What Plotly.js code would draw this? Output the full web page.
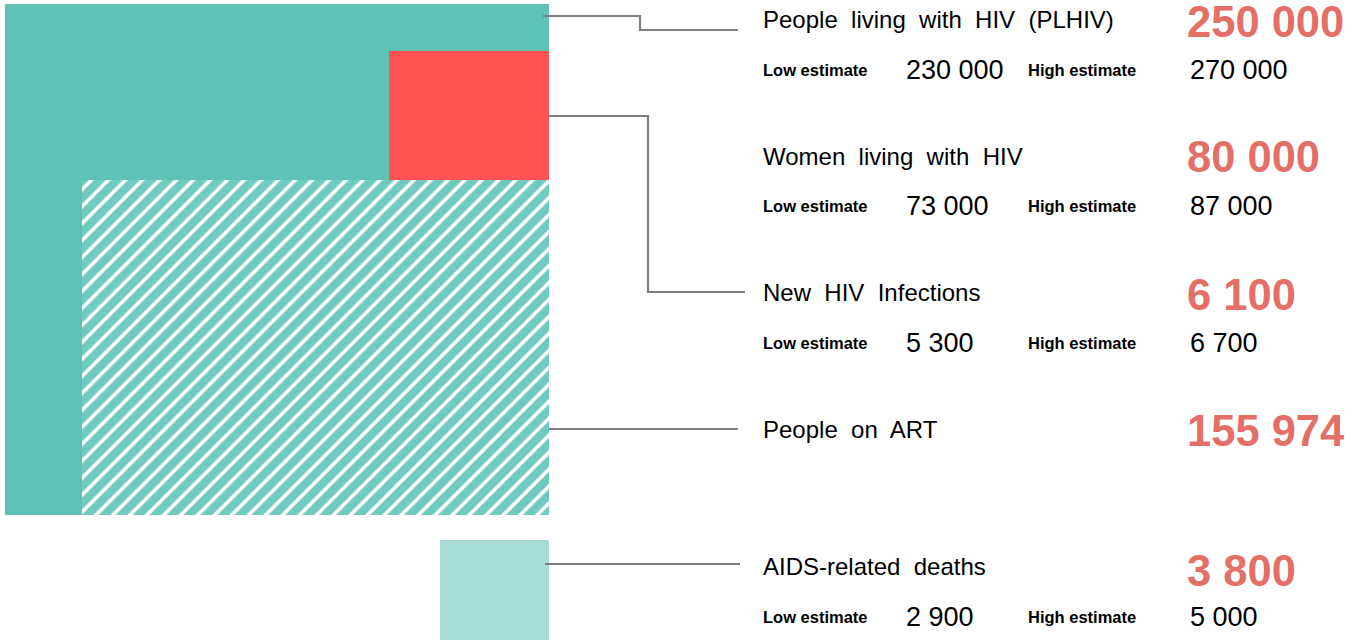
<!DOCTYPE html>
<html>
<head>
<meta charset="utf-8">
<script src="https://cdn.plot.ly/plotly-3.0.1.min.js"></script>
<style>html,body{margin:0;padding:0;background:#fff;}#chart{width:1355px;height:641px;}</style>
</head>
<body>
<div id="chart"></div>
<script>
// ---- data ----
const indicators = ["People  living  with  HIV  (PLHIV)", "Women  living  with  HIV", "New  HIV  Infections", "People  on  ART", "AIDS-related  deaths"];
const values = ["250 000", "80 000", "6 100", "155 974", "3 800"];
const lowEstimates = ["230 000", "73 000", "5 300", null, "2 900"];
const highEstimates = ["270 000", "87 000", "6 700", null, "5 000"];

// ---- layout geometry (pixel-like axis units) ----
const rows = [19, 156, 292, 429, 566];      // title row centre
const bigRows = [22, 157, 295, 431, 571];   // big number centre
const estRows = [70, 206, 343, null, 617];  // estimate row centre

const rects = [
  {x0: 5, x1: 549, y0: 4, y1: 515, color: "#5FC2B5"},
  {x0: 389, x1: 549, y0: 51, y1: 181, color: "#FF5252"},
  {x0: 82, x1: 549, y0: 180, y1: 515, color: "#6FCBBF", hatch: true},
  {x0: 440, x1: 549, y0: 540, y1: 640, color: "#A5DCD5"}
];
const connectors = [
  {x: [543, 640, 640, 738], y: [16, 16, 30, 30]},
  {x: [549, 648, 648, 745], y: [116, 116, 292, 292]},
  {x: [549, 738], y: [429, 429]},
  {x: [545, 740], y: [564, 564]}
];

const traces = [];
rects.forEach(r => {
  const marker = {color: r.color, line: {width: 0}};
  if (r.hatch) {
    marker.pattern = {shape: "/", bgcolor: r.color, fgcolor: "#ffffff", size: 12, solidity: 0.3, fillmode: "replace"};
  }
  traces.push({
    type: "bar", x: [(r.x0 + r.x1) / 2], width: [r.x1 - r.x0],
    base: [r.y0], y: [r.y1 - r.y0], marker: marker,
    hoverinfo: "skip", showlegend: false
  });
});
connectors.forEach(c => {
  traces.push({type: "scatter", mode: "lines", x: c.x, y: c.y,
    line: {color: "#7F7F7F", width: 2.2}, hoverinfo: "skip", showlegend: false});
});

const FONT = "Liberation Sans, Arial, sans-serif";
const ann = [];
function A(x, y, text, size, color, bold) {
  ann.push({xref: "x", yref: "y", x: x, y: y, text: bold ? "<b>" + text + "</b>" : text,
    showarrow: false, xanchor: "left", yanchor: "middle", borderpad: 0,
    font: {family: FONT, size: size, color: color}});
}
indicators.forEach((t, i) => {
  A(762, rows[i], t, 24, "#000000", false);
  A(1186, bigRows[i], values[i], 43.5, "#E46F66", true);
  if (lowEstimates[i] !== null) {
    A(762, estRows[i], "Low estimate", 16.5, "#000000", true);
    A(905, estRows[i], lowEstimates[i], 27, "#000000", false);
    A(1027, estRows[i], "High estimate", 16.5, "#000000", true);
    A(1189, estRows[i], highEstimates[i], 27, "#000000", false);
  }
});

const layout = {
  width: 1355, height: 641,
  margin: {l: 0, r: 0, t: 0, b: 0},
  paper_bgcolor: "#ffffff", plot_bgcolor: "#ffffff",
  barmode: "overlay", bargap: 0,
  xaxis: {range: [0, 1355], visible: false, fixedrange: true},
  yaxis: {range: [641, 0], visible: false, fixedrange: true},
  annotations: ann,
  showlegend: false
};
Plotly.newPlot("chart", traces, layout, {displayModeBar: false, staticPlot: true});
</script>
</body>
</html>
